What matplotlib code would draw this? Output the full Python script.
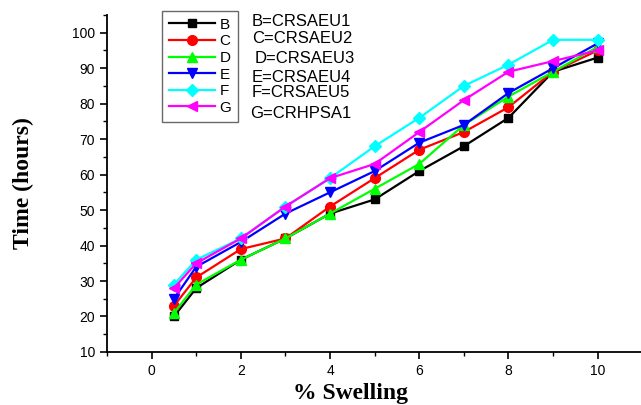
import numpy as np
import matplotlib.pyplot as plt
from matplotlib.ticker import MultipleLocator

swelling = [0.5, 1, 2, 3, 4, 5, 6, 7, 8, 9, 10]
series_names = ["B", "C", "D", "E", "F", "G"]
full_names = ["B=CRSAEU1", "C=CRSAEU2", "D=CRSAEU3", "E=CRSAEU4", "F=CRSAEU5", "G=CRHPSA1"]
b_vals = [20, 28, 36, 42, 49, 53, 61, 68, 76, 89, 93]
c_vals = [23, 31, 39, 42, 51, 59, 67, 72, 79, 89, 95]
d_vals = [21, 29, 36, 42, 49, 56, 63, 74, 82, 89, 96]
e_vals = [25, 34, 41, 49, 55, 61, 69, 74, 83, 90, 97]
f_vals = [29, 36, 42, 51, 59, 68, 76, 85, 91, 98, 98]
g_vals = [28, 35, 42, 51, 59, 63, 72, 81, 89, 92, 95]

colors = ["black", "red", "#00ff00", "blue", "cyan", "magenta"]
markers = ["s", "o", "^", "v", "D", "<"]
msizes = [6, 7, 7, 7, 6, 7]


def main() -> None:
    plt.rcParams['font.family'] = ['Liberation Sans', 'DejaVu Sans']
    fig = plt.figure(figsize=(6.41, 4.05), dpi=100)
    ax = fig.add_axes([0.167, 0.131, 0.835, 0.832])

    all_vals = [b_vals, c_vals, d_vals, e_vals, f_vals, g_vals]
    for name, vals, c, m, ms in zip(series_names, all_vals, colors, markers, msizes):
        ax.plot(swelling, vals, color=c, marker=m, markersize=ms, linewidth=1.6, label=name)

    ax.set_xlim(-1, 11)
    ax.set_ylim(10, 105)
    ax.xaxis.set_major_locator(MultipleLocator(2))
    ax.xaxis.set_minor_locator(MultipleLocator(1))
    ax.yaxis.set_major_locator(MultipleLocator(10))
    ax.yaxis.set_minor_locator(MultipleLocator(5))
    ax.set_yticks(np.arange(10, 101, 10))
    ax.tick_params(which='major', length=5, width=1.2, labelsize=10, direction='out')
    ax.tick_params(which='minor', length=3, width=1.0, direction='out')
    for s in ["top", "right"]:
        ax.spines[s].set_visible(False)
    for s in ["left", "bottom"]:
        ax.spines[s].set_linewidth(1.3)

    ax.set_xlabel("% Swelling", family="Liberation Serif", fontweight="bold", fontsize=17)
    ax.set_ylabel("Time (hours)", family="Liberation Serif", fontweight="bold", fontsize=17)
    ax.xaxis.set_label_coords(0.454, -0.092)
    ax.yaxis.set_label_coords(-0.136, 0.5)

    leg = ax.legend(loc="upper left", bbox_to_anchor=(0.103, 1.012), frameon=True, fancybox=False,
                    edgecolor="#444444", fontsize=11, handlelength=3.0, handletextpad=0.3,
                    labelspacing=0.17, borderpad=0.45, borderaxespad=0)
    leg.get_frame().set_linewidth(1.0)

    ys = [21.7, 38.3, 58.3, 77.3, 92.7, 114]
    xs = [252, 252, 255, 252, 252, 250]
    for t, x, y in zip(full_names, xs, ys):
        fig.text(x / 641, 1 - y / 405, t, fontsize=12, va="center", ha="left")

    fig.savefig("out.png", dpi=100)


if __name__ == "__main__":
    main()
